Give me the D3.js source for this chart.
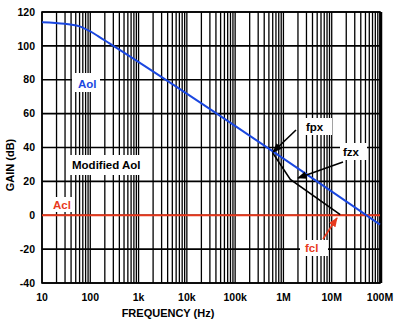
<!DOCTYPE html>
<html>
<head>
<meta charset="utf-8">
<script src="https://cdn.jsdelivr.net/npm/d3@7"></script>
<style>
  body { margin: 0; background: #fff; }
  text { font-family: "Liberation Sans", Arial, sans-serif; font-weight: bold; }
</style>
</head>
<body>
<div id="chart"></div>
<script>
// Open loop gain (Aol), modified Aol and closed loop gain (Acl)
const aolFreq = [10, 30, 60, 100, 150, 250, 1e8];
const aolGain = [114, 113, 111.5, 108.5, 105.5, 101.5, -5.5];

const modFreq = [5.9e5, 1.39e6, 1.5e7];
const modGain = [37.1, 21.2, 0.4];

const aclFreq = [10, 1e8];
const aclGain = [0, 0];

const yTicks = [120, 100, 80, 60, 40, 20, 0, -20, -40];
const xTicks = [10, 100, 1e3, 1e4, 1e5, 1e6, 1e7, 1e8];
const xTickLabels = ["10", "100", "1k", "10k", "100k", "1M", "10M", "100M"];

const width = 400, height = 326;
const margin = { top: 12, right: 20, bottom: 43, left: 42 };

const svg = d3.select("#chart")
    .append("svg")
    .attr("width", width)
    .attr("height", height);

const x = d3.scaleLog()
    .domain([10, 1e8])
    .range([margin.left, width - margin.right]);

const y = d3.scaleLinear()
    .domain([-40, 120])
    .range([height - margin.bottom, margin.top]);

// arrow heads
const defs = svg.append("defs");
[["arrowBlack", "#000"], ["arrowRed", "#e8391d"]].forEach(([id, c]) => {
    defs.append("marker")
        .attr("id", id)
        .attr("viewBox", "0 0 10 10")
        .attr("refX", 9)
        .attr("refY", 5)
        .attr("markerWidth", 6)
        .attr("markerHeight", 6)
        .attr("orient", "auto")
        .append("path")
        .attr("d", "M0,1 L10,5 L0,9 Z")
        .attr("fill", c);
});

// vertical grid: 1..9 per decade
const minor = [];
for (let d = 10; d < 1e8; d *= 10) {
    for (let k = 1; k < 10; k++) minor.push(d * k);
}
minor.push(1e8);

svg.append("g")
    .selectAll("line")
    .data(minor)
    .enter()
    .append("line")
    .attr("x1", d => x(d))
    .attr("x2", d => x(d))
    .attr("y1", y(120))
    .attr("y2", y(-40))
    .attr("stroke", "#000")
    .attr("stroke-width", 1.3);

// horizontal grid
svg.append("g")
    .selectAll("line")
    .data(yTicks)
    .enter()
    .append("line")
    .attr("x1", x(10))
    .attr("x2", x(1e8))
    .attr("y1", d => y(d))
    .attr("y2", d => y(d))
    .attr("stroke", "#000")
    .attr("stroke-width", 1.6);

// frame
svg.append("rect")
    .attr("x", x(10))
    .attr("y", y(120))
    .attr("width", x(1e8) - x(10))
    .attr("height", y(-40) - y(120))
    .attr("fill", "none")
    .attr("stroke", "#000")
    .attr("stroke-width", 1.6);
svg.append("line")
    .attr("x1", x(1e8) + 1)
    .attr("x2", x(1e8) + 1)
    .attr("y1", y(120))
    .attr("y2", y(-40))
    .attr("stroke", "#000")
    .attr("stroke-width", 2.5);

// tick labels
svg.append("g")
    .selectAll("text")
    .data(yTicks)
    .enter()
    .append("text")
    .attr("x", 35)
    .attr("y", d => y(d))
    .attr("dy", "0.35em")
    .attr("text-anchor", "end")
    .attr("font-size", 10.5)
    .text(d => d);

svg.append("g")
    .selectAll("text")
    .data(xTicks)
    .enter()
    .append("text")
    .attr("x", d => x(d))
    .attr("y", 301)
    .attr("text-anchor", "middle")
    .attr("font-size", 10.5)
    .text((d, i) => xTickLabels[i]);

svg.append("text")
    .attr("x", 168)
    .attr("y", 317)
    .attr("text-anchor", "middle")
    .attr("font-size", 11)
    .text("FREQUENCY (Hz)");

svg.append("text")
    .attr("transform", "translate(14,165) rotate(-90)")
    .attr("text-anchor", "middle")
    .attr("font-size", 11)
    .text("GAIN (dB)");

// label boxes (white patches over the grid)
const labels = [
    { t: "Aol", x: 72, y: 73, w: 28, h: 19, c: "#1a47e0", tx: 78, ty: 88 },
    { t: "Modified Aol", x: 69, y: 155, w: 73, h: 20, c: "#000", tx: 72, ty: 169 },
    { t: "Acl", x: 50, y: 197, w: 23, h: 15, c: "#e8391d", tx: 53, ty: 209 },
    { t: "fpx", x: 303, y: 118, w: 29, h: 17, c: "#000", tx: 306, ty: 131 },
    { t: "fzx", x: 340, y: 143, w: 27, h: 17, c: "#000", tx: 343, ty: 156 },
    { t: "fcl", x: 300, y: 240, w: 28, h: 16, c: "#e8391d", tx: 305, ty: 252 }
];

svg.append("g")
    .selectAll("rect")
    .data(labels)
    .enter()
    .append("rect")
    .attr("x", d => d.x)
    .attr("y", d => d.y)
    .attr("width", d => d.w)
    .attr("height", d => d.h)
    .attr("fill", "#fff");

svg.append("g")
    .selectAll("text")
    .data(labels)
    .enter()
    .append("text")
    .attr("x", d => d.tx)
    .attr("y", d => d.ty)
    .attr("font-size", 11.5)
    .attr("fill", d => d.c)
    .text(d => d.t);

// curves
const line = d3.line()
    .x(d => x(d[0]))
    .y(d => y(d[1]));

svg.append("path")
    .datum(aclFreq.map((f, i) => [f, aclGain[i]]))
    .attr("d", line)
    .attr("fill", "none")
    .attr("stroke", "#e8391d")
    .attr("stroke-width", 2.2);

svg.append("path")
    .datum(modFreq.map((f, i) => [f, modGain[i]]))
    .attr("d", line)
    .attr("fill", "none")
    .attr("stroke", "#000")
    .attr("stroke-width", 1.6);

svg.append("path")
    .datum(aolFreq.map((f, i) => [f, aolGain[i]]))
    .attr("d", d3.line().x(d => x(d[0])).y(d => y(d[1])).curve(d3.curveMonotoneX))
    .attr("fill", "none")
    .attr("stroke", "#1a47e0")
    .attr("stroke-width", 2);

// pointer arrows
const arrows = [
    { x1: 296, y1: 130, x2: 273, y2: 152, c: "#000", m: "arrowBlack" },
    { x1: 343, y1: 162, x2: 298, y2: 178, c: "#000", m: "arrowBlack" },
    { x1: 323, y1: 239, x2: 337, y2: 218, c: "#e8391d", m: "arrowRed" }
];

svg.append("g")
    .selectAll("line")
    .data(arrows)
    .enter()
    .append("line")
    .attr("x1", d => d.x1)
    .attr("y1", d => d.y1)
    .attr("x2", d => d.x2)
    .attr("y2", d => d.y2)
    .attr("stroke", d => d.c)
    .attr("stroke-width", 1.6)
    .attr("marker-end", d => `url(#${d.m})`);
</script>
</body>
</html>
